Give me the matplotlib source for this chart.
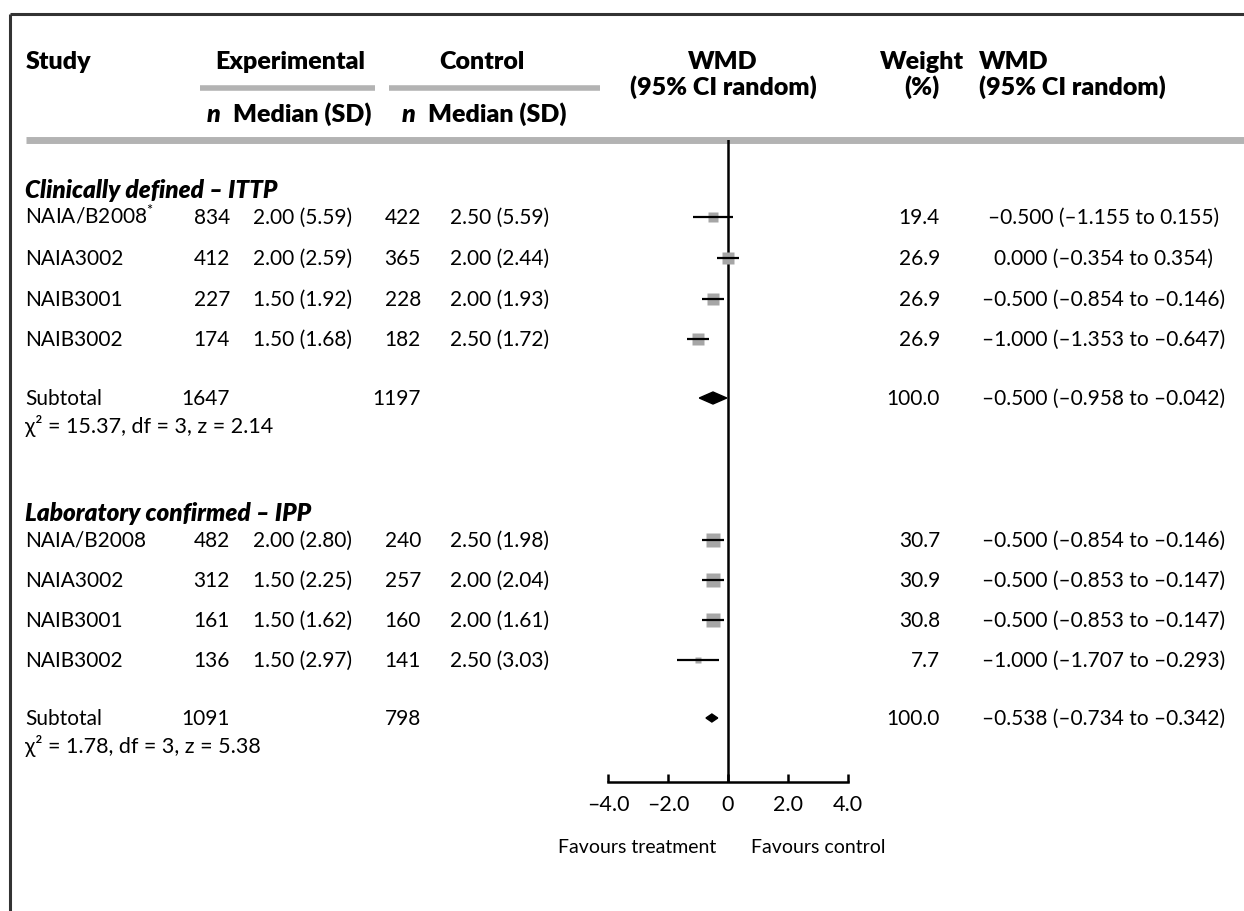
import matplotlib
matplotlib.use("Agg")
import matplotlib.pyplot as plt
import numpy as np

plt.rcParams.update({
    "font.family": ["Lato", "DejaVu Sans"],
    "font.size": 15,
    "mathtext.fontset": "custom",
    "mathtext.rm": "Lato",
})

# ---- data -------------------------------------------------------------
sections = ["Clinically defined – ITTP", "Laboratory confirmed – IPP"]

studies_1 = ["NAIA/B2008$^{*}$", "NAIA3002", "NAIB3001", "NAIB3002"]
exp_n_1 = [834, 412, 227, 174]
exp_med_1 = ["2.00 (5.59)", "2.00 (2.59)", "1.50 (1.92)", "1.50 (1.68)"]
ctl_n_1 = [422, 365, 228, 182]
ctl_med_1 = ["2.50 (5.59)", "2.00 (2.44)", "2.00 (1.93)", "2.50 (1.72)"]
wmd_1 = [-0.500, 0.000, -0.500, -1.000]
lo_1 = [-1.155, -0.354, -0.854, -1.353]
hi_1 = [0.155, 0.354, -0.146, -0.647]
weight_1 = [19.4, 26.9, 26.9, 26.9]
sub_1 = dict(exp_n=1647, ctl_n=1197, wmd=-0.500, lo=-0.958, hi=-0.042,
             weight=100.0, stats="χ² = 15.37, df = 3, z = 2.14")

studies_2 = ["NAIA/B2008", "NAIA3002", "NAIB3001", "NAIB3002"]
exp_n_2 = [482, 312, 161, 136]
exp_med_2 = ["2.00 (2.80)", "1.50 (2.25)", "1.50 (1.62)", "1.50 (2.97)"]
ctl_n_2 = [240, 257, 160, 141]
ctl_med_2 = ["2.50 (1.98)", "2.00 (2.04)", "2.00 (1.61)", "2.50 (3.03)"]
wmd_2 = [-0.500, -0.500, -0.500, -1.000]
lo_2 = [-0.854, -0.853, -0.853, -1.707]
hi_2 = [-0.146, -0.147, -0.147, -0.293]
weight_2 = [30.7, 30.9, 30.8, 7.7]
sub_2 = dict(exp_n=1091, ctl_n=798, wmd=-0.538, lo=-0.734, hi=-0.342,
             weight=100.0, stats="χ² = 1.78, df = 3, z = 5.38")

ticks = [-4, -2, 0, 2, 4]
tick_labels = ["–4.0", "–2.0", "0", "2.0", "4.0"]

# ---- layout (pixel rows / columns) ------------------------------------
W, H = 1244, 912
Y_HEAD, Y_HEAD2, Y_SUBHEAD, Y_RULE = 62, 88, 115, 141
Y_AXIS = 783
row_y = [[218, 259, 300, 340], [541, 581, 621, 661]]
sub_y = [399, 719]
diamond_h = [6, 4]
X_NAME, X_EN, X_EM, X_CN, X_CM, X_W, X_WMD = 25, 230, 253, 421, 450, 940, 1104
BASE = 6  # text baseline offset below a row centre
GREY = "#b3b3b3"
SQ = "#a6a6a6"


def fmt(v):
    s = f"{abs(v):.3f}"
    return ("–" + s) if v < 0 else s


fig = plt.figure(figsize=(W / 100, H / 100), dpi=100)
ax = fig.add_axes([0, 0, 1, 1])
ax.set_xlim(0, W)
ax.set_ylim(H, 0)
ax.axis("off")

# frame
ax.plot([10, 10], [15, H], color="#333333", lw=2.2, solid_capstyle="butt")
ax.plot([10, W], [15, 15], color="#333333", lw=2.2, solid_capstyle="butt")

# header
hb = dict(fontweight="heavy", va="baseline", fontsize=18)
ax.text(26, Y_HEAD + 7, "Study", ha="left", **hb)
ax.text(290, Y_HEAD + 7, "Experimental", ha="center", **hb)
ax.text(482, Y_HEAD + 7, "Control", ha="center", **hb)
ax.text(723, Y_HEAD + 7, "WMD", ha="center", **hb)
ax.text(723, Y_HEAD2 + 7, "(95% CI random)", ha="center", **hb)
ax.text(922, Y_HEAD + 7, "Weight", ha="center", **hb)
ax.text(922, Y_HEAD2 + 7, "(%)", ha="center", **hb)
ax.text(979, Y_HEAD + 7, "WMD", ha="left", **hb)
ax.text(979, Y_HEAD2 + 7, "(95% CI random)", ha="left", **hb)
ax.plot([200, 375], [89, 89], color=GREY, lw=4, solid_capstyle="butt")
ax.plot([389, 600], [89, 89], color=GREY, lw=4, solid_capstyle="butt")
ax.text(214, Y_SUBHEAD + 7, "n", ha="center", style="italic", **hb)
ax.text(233, Y_SUBHEAD + 7, "Median (SD)", ha="left", **hb)
ax.text(409, Y_SUBHEAD + 7, "n", ha="center", style="italic", **hb)
ax.text(428, Y_SUBHEAD + 7, "Median (SD)", ha="left", **hb)
ax.plot([26, W], [Y_RULE, Y_RULE], color=GREY, lw=5, solid_capstyle="butt")

# forest axes: rows share the pixel y scale
fa = fig.add_axes([608 / W, 1 - Y_AXIS / H, 240 / W, (Y_AXIS - Y_RULE) / H])
fa.set_xlim(-4, 4)
fa.set_ylim(Y_AXIS, Y_RULE)
fa.patch.set_alpha(0)
for s in ("top", "left", "right"):
    fa.spines[s].set_visible(False)
fa.spines["bottom"].set_linewidth(1.8)
fa.set_yticks([])
fa.set_xticks(ticks)
fa.set_xticklabels(tick_labels, fontsize=15.5)
fa.tick_params(axis="x", direction="in", length=6, width=1.8, pad=9)
fa.axvline(0, color="black", lw=1.8, zorder=1)

data = [
    (studies_1, exp_n_1, exp_med_1, ctl_n_1, ctl_med_1, wmd_1, lo_1, hi_1, weight_1, sub_1),
    (studies_2, exp_n_2, exp_med_2, ctl_n_2, ctl_med_2, wmd_2, lo_2, hi_2, weight_2, sub_2),
]
tb = dict(va="baseline", fontsize=15)
for k, (names, en, em, cn, cm, est, lo, hi, wt, sub) in enumerate(data):
    ax.text(X_NAME, row_y[k][0] - 26 + BASE, sections[k], ha="left",
            fontweight="heavy", style="italic", va="baseline", fontsize=17.5)
    for i, y in enumerate(row_y[k]):
        yb = y + BASE
        ax.text(X_NAME, yb, names[i], ha="left", **tb)
        ax.text(X_EN, yb, str(en[i]), ha="right", **tb)
        ax.text(X_EM, yb, em[i], ha="left", **tb)
        ax.text(X_CN, yb, str(cn[i]), ha="right", **tb)
        ax.text(X_CM, yb, cm[i], ha="left", **tb)
        ax.text(X_W, yb, f"{wt[i]:.1f}", ha="right", **tb)
        ax.text(X_WMD, yb, f"{fmt(est[i])} ({fmt(lo[i])} to {fmt(hi[i])})",
                ha="center", **tb)
        side = 1.75 * np.sqrt(wt[i])
        fa.plot(est[i], y, marker="s", ms=side, color=SQ, mec="none",
                zorder=2, clip_on=False)
        fa.hlines(y, lo[i], hi[i], color="black", lw=1.6, zorder=3,
                  clip_on=False)
    ys = sub_y[k]
    yb = ys + BASE
    ax.text(X_NAME, yb, "Subtotal", ha="left", **tb)
    ax.text(X_EN, yb, str(sub["exp_n"]), ha="right", **tb)
    ax.text(X_CN, yb, str(sub["ctl_n"]), ha="right", **tb)
    ax.text(X_W, yb, f"{sub['weight']:.1f}", ha="right", **tb)
    ax.text(X_WMD, yb, f"{fmt(sub['wmd'])} ({fmt(sub['lo'])} to {fmt(sub['hi'])})",
            ha="center", **tb)
    ax.text(X_NAME, yb + 28, sub["stats"], ha="left", fontsize=15.5,
            va="baseline")
    h = diamond_h[k]
    fa.fill([sub["lo"], sub["wmd"], sub["hi"], sub["wmd"]],
            [ys, ys - h, ys, ys + h], color="black", zorder=3, clip_on=False)

ax.text(637, 848, "Favours treatment", ha="center", va="center", fontsize=14)
ax.text(818, 848, "Favours control", ha="center", va="center", fontsize=14)

fig.savefig("out.png", dpi=100)
